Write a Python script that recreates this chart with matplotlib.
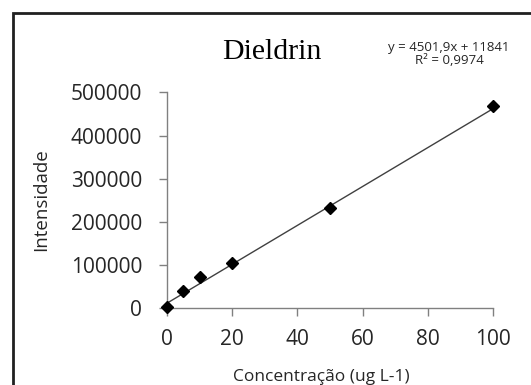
import matplotlib
matplotlib.use("Agg")
import matplotlib.pyplot as plt
from matplotlib.patches import Rectangle
import numpy as np

# Data
concentration = [0, 5, 10, 20, 50, 100]
intensity = [3000, 40000, 73000, 104000, 232000, 468000]
slope = 4501.9
intercept = 11841
r2_text = "0,9974"
x_ticks = [0, 20, 40, 60, 80, 100]
y_ticks = [0, 100000, 200000, 300000, 400000, 500000]

W, H = 531, 385
fig = plt.figure(figsize=(W / 100, H / 100), dpi=100)
fig.patch.set_facecolor("white")

# outer frame (cropped at right/bottom)
fig.patches.append(Rectangle((13 / W, -0.1), 1.2, 1 - 13 / H + 0.1,
                             transform=fig.transFigure, fill=False,
                             edgecolor="#202020", linewidth=2))

ax = fig.add_axes([167 / W, 1 - 308.3 / H, (493 - 167) / W, (308.3 - 92.3) / H])
ax.set_xlim(0, 100)
ax.set_ylim(0, 500000)

xs = np.array([0, 100])
ax.plot(xs, slope * xs + intercept, color="#404040", linewidth=1.0, zorder=2)
ax.plot(concentration, intensity, linestyle="none", marker="D", markersize=6,
        color="black", zorder=3, clip_on=False)

font = "Open Sans"
ax.set_xticks(x_ticks)
ax.set_yticks(y_ticks)
ax.set_xticklabels([str(v) for v in x_ticks], fontsize=15, family=font, color="#262626")
ax.set_yticklabels([str(v) for v in y_ticks], fontsize=15, family=font, color="#262626")
ax.tick_params(axis="both", direction="out", length=6, width=1, color="#808080")
ax.tick_params(axis="y", pad=12)
ax.tick_params(axis="x", pad=9)

for s in ["top", "right"]:
    ax.spines[s].set_visible(False)
for s in ["left", "bottom"]:
    ax.spines[s].set_color("#808080")
    ax.spines[s].set_linewidth(1)

fig.text(41 / W, 1 - 200 / H, "Intensidade", rotation=90, ha="center", va="center",
         fontsize=13.5, family=font, color="#262626")
fig.text(321 / W, 1 - 377 / H, "Concentração (ug L-1)", ha="center", va="center",
         fontsize=12.5, family=font, color="#262626")

fig.text(272 / W, 1 - 52 / H, "Dieldrin", ha="center", va="center",
         fontsize=21.5, family="Liberation Serif", color="black")

fig.text(449 / W, 1 - 47 / H, "y = 4501,9x + 11841", ha="center", va="center",
         fontsize=9.5, family=font, color="#262626")
fig.text(449 / W, 1 - 60 / H, "R² = " + r2_text, ha="center", va="center",
         fontsize=9.5, family=font, color="#262626")

fig.savefig("out.png", dpi=100, facecolor="white")
